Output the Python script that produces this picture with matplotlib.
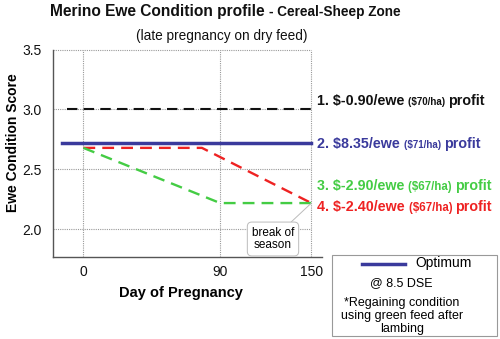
import matplotlib
matplotlib.use("Agg")
import matplotlib.pyplot as plt
from matplotlib.patches import Rectangle
from matplotlib.lines import Line2D

plt.rcParams["font.family"] = ["Liberation Sans", "DejaVu Sans"]

# -------------------------
# Data
# -------------------------
days_black = [-11, 150]
score_black = [3.0, 3.0]
days_blue = [-14, 150]
score_blue = [2.72, 2.72]
days_red = [0, 78, 150]
score_red = [2.68, 2.68, 2.22]
days_green = [0, 90, 150]
score_green = [2.68, 2.22, 2.22]

x_ticks = [0, 90, 150]
y_ticks = [2.0, 2.5, 3.0, 3.5]

BLUE = "#3a3a9c"
GREEN = "#44cc44"
RED = "#ee2222"
BLACK = "#111111"

labels = [
    # (baseline y px, [(text, size, color)])
    (105, [("1. $-0.90/ewe ", 10.3, BLACK), ("($70/ha) ", 7, BLACK), ("profit", 10.3, BLACK)]),
    (148, [("2. $8.35/ewe ", 10.3, BLUE), ("($71/ha) ", 7, BLUE), ("profit", 10.3, BLUE)]),
    (190, [("3. $-2.90/ewe ", 10.3, GREEN), ("($67/ha) ", 8.3, GREEN), ("profit", 10.3, GREEN)]),
    (211, [("4. $-2.40/ewe ", 10.3, RED), ("($67/ha) ", 8.3, RED), ("profit", 10.3, RED)]),
]

W, H = 500, 339


def fx(px):
    return px / W


def fy(py):
    return 1 - py / H


def rich_text(fig, renderer, x, y, pieces):
    for s, size, color in pieces:
        t = fig.text(fx(x), fy(y), s, fontsize=size, color=color,
                     fontweight="bold", va="baseline", ha="left")
        bb = t.get_window_extent(renderer)
        x += bb.width


fig = plt.figure(figsize=(W / 100, H / 100), dpi=100)
ax = fig.add_axes([fx(53), fy(256.7), fx(322) - fx(53), fy(49.5) - fy(256.7)])
ax.set_xlim(-20, 157)
ax.set_ylim(1.773, 3.5)

# dotted grid, only inside the 150-day frame
for yv in y_ticks:
    ax.plot([-20, 150], [yv, yv], color="#999999", lw=0.8, ls=(0, (1, 1)),
            clip_on=False, zorder=1)
for xv in x_ticks:
    ax.plot([xv, xv], [1.773, 3.5], color="#999999", lw=0.8, ls=(0, (1, 1)),
            clip_on=False, zorder=1)

ax.plot(days_black, score_black, color=BLACK, lw=1.5, ls=(0, (5, 3)), zorder=3)
ax.plot(days_blue, score_blue, color=BLUE, lw=2.5, zorder=3)
ax.plot(days_red, score_red, color=RED, lw=1.7, ls=(0, (5, 3)), zorder=3)
ax.plot(days_green, score_green, color=GREEN, lw=1.7, ls=(0, (5, 3)), zorder=3)

for s in ["top", "right"]:
    ax.spines[s].set_visible(False)
for s in ["left", "bottom"]:
    ax.spines[s].set_color("#555555")
    ax.spines[s].set_linewidth(1.0)

ax.set_xticks(x_ticks)
ax.set_yticks(y_ticks)
ax.set_yticklabels([f"{v:.1f}" for v in y_ticks])
ax.tick_params(axis="both", length=0, labelsize=10, colors="#111111")
ax.tick_params(axis="x", pad=6)
ax.tick_params(axis="y", pad=8)

# axis titles placed like the reference
fig.text(fx(181), fy(293), "Day of Pregnancy", fontsize=10.5, fontweight="bold",
         ha="center", va="center")
fig.text(fx(13), fy(143), "Ewe Condition Score", fontsize=10, fontweight="bold",
         ha="center", va="center", rotation=90)

# break of season callout
ax.annotate("break of\nseason", xy=(150, 2.22), xycoords="data",
            xytext=(fx(273), fy(239)), textcoords="figure fraction",
            fontsize=8.5, ha="center", va="center", linespacing=1.1,
            bbox=dict(boxstyle="round,pad=0.38", fc="white", ec="#bbbbbb", lw=0.7),
            arrowprops=dict(arrowstyle="-", color="#bbbbbb", lw=0.7,
                            shrinkA=0, shrinkB=0))

# titles
renderer = fig.canvas.get_renderer()
rich_text(fig, renderer, 50, 16, [("Merino Ewe Condition profile ", 11.2, BLACK),
                                   ("- Cereal-Sheep Zone", 9.8, BLACK)])
fig.text(fx(222), fy(36), "(late pregnancy on dry feed)", fontsize=9.8,
         ha="center", va="center", color=BLACK)

# right-hand scenario labels
for yb, pieces in labels:
    rich_text(fig, renderer, 317, yb, pieces)

# legend box
fig.add_artist(Rectangle((fx(332), fy(336)), fx(497) - fx(332), fy(255) - fy(336),
                         transform=fig.transFigure, fill=False, ec="#999999", lw=0.8))
fig.add_artist(Line2D([fx(362), fx(405)], [fy(264), fy(264)], color=BLUE, lw=2.5,
                      transform=fig.transFigure))
fig.text(fx(415), fy(263), "Optimum", fontsize=10, ha="left", va="center")
fig.text(fx(401), fy(283), "@ 8.5 DSE", fontsize=9, ha="center", va="center")
fig.text(fx(402), fy(316), "*Regaining condition\nusing green feed after\nlambing",
         fontsize=9, ha="center", va="center", linespacing=1.12)

fig.savefig("out.png", dpi=100)
